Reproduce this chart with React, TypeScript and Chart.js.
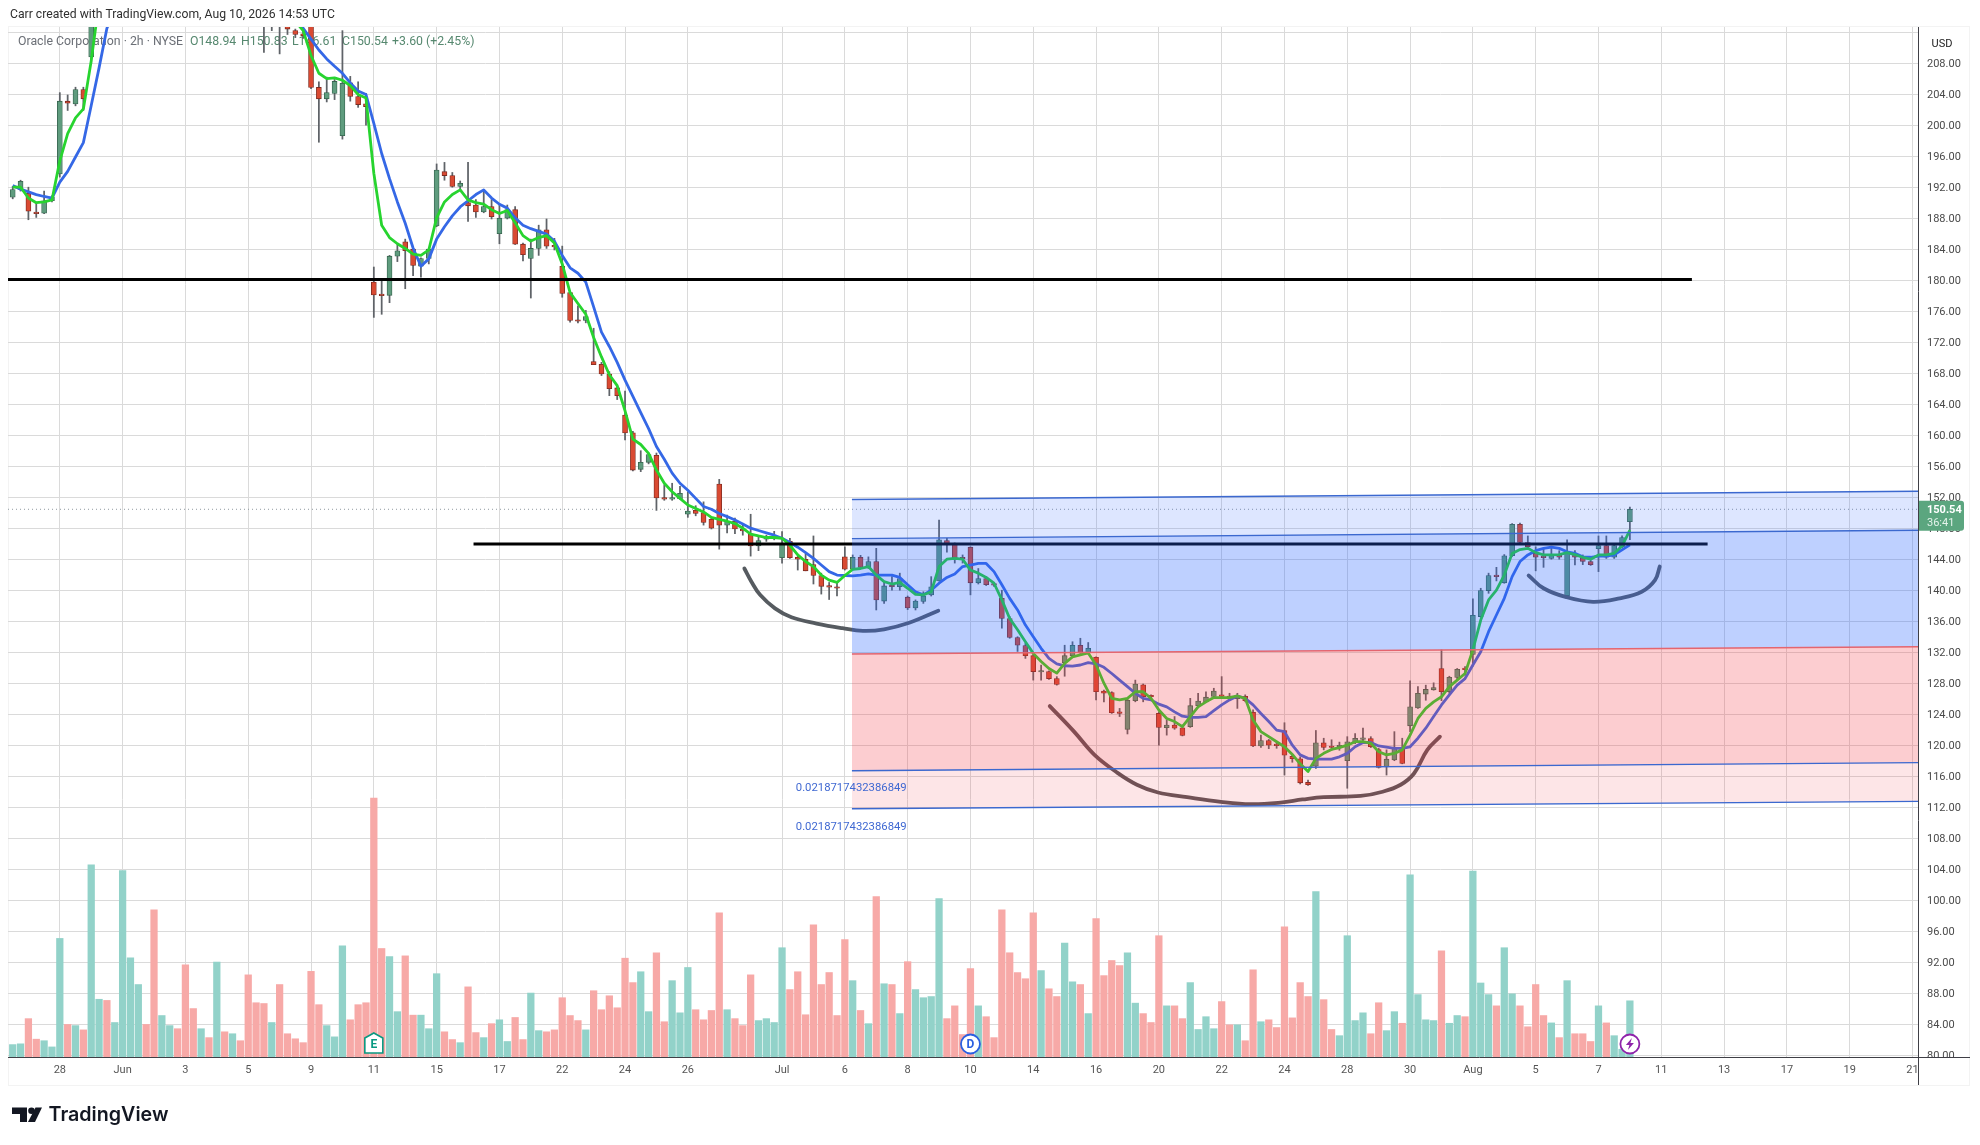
import React, { useEffect, useRef } from "react";
import { Chart, registerables } from "chart.js";

Chart.register(...registerables);

const opens = [
  190.8,191.8,191.3,188.8,188.75,190.35,193.8,203.2,202.85,204.7,
  208.9,215,219,218,219.5,225,227.5,229,228,224,
  225,226,225.5,222,220.5,221,220.5,222.5,222,222.5,
  222,219.5,217.5,215.5,216.5,213.2,212.3,211.9,214,204.97,
  203.5,204.2,198.75,205.57,203.8,202.85,179.85,178.2,178.15,183.2,
  185.06,184.1,181.9,182.9,187.1,194.1,193.6,192.2,190.1,189.8,
  188.9,189.6,186.1,188.1,189.2,184.75,182.9,184.2,186.6,184.5,
  181.9,178.5,175,174.9,169.6,169.25,168,166.2,162.7,160.4,
  155.7,156.6,157.5,151.95,151.85,151.9,149.9,150.4,150.1,149.25,
  153.8,148.5,149,147.9,147.35,145.8,146.7,146.8,144.3,146.4,
  144.35,144.1,143.4,142,140.6,140.5,144.4,142.8,144.35,143.05,
  143.8,138.7,140.6,140.55,139.2,137.8,138.65,139.5,141.3,146.5,
  146.05,144.2,145.65,141.05,141.6,140.85,139.05,136.45,134,132.95,
  131.65,129.55,129.6,128.7,130.75,131.65,133,132,131.45,127.1,
  126.9,124.3,122.15,125.85,127.9,126.45,124.2,122.35,122.7,122.35,
  122.5,125.2,125.7,126.4,126.5,126.36,126.1,126.4,124.35,120,
  120.7,120.15,122,118.65,118.35,115.3,117.4,120.4,119.85,119.9,
  118.1,120.45,120.85,120.95,119.55,117.3,118.2,119.8,122.6,124.9,
  126.7,127.25,130,127,128.85,129.95,131.8,136.7,140.05,142,
  141.05,144.55,148.6,146.25,144.85,144.4,144.2,144.7,139.4,144.75,
  144.3,143.8,145.45,145.85,144.35,145.7,148.94,
];
const closes = [
  191.8,192.85,189,188.7,190.35,190.85,203.2,202.95,204.7,203.5,
  215,219,218,219.5,225,227.5,229,228,224,225,
  226,225.5,222,220.5,221,220.5,222.5,222,222.5,222,
  219.5,217.5,215.5,216.5,214.5,212.5,211.8,211.65,204.97,203.5,
  204.3,205.75,205.5,203.8,202.76,202.5,178.2,178.1,183.2,183.9,
  183.9,182,182.9,184.1,194.3,193.6,192.2,192.6,189.7,188.9,
  189.6,188.3,188.1,189.2,184.75,183.4,184.2,186.6,184.5,184.4,
  178.4,174.9,174.8,175.4,169.2,168,166.1,165.2,160.4,155.6,
  156.6,157.6,152,151.85,151.95,152.6,150.3,150,148.85,148.1,
  148.5,149,148,147.75,145.8,146.5,146.8,146.9,146.15,144.3,
  144.1,142.6,142,140.6,140.5,140.35,142.8,144.35,143.05,143.8,
  138.85,140.65,140.55,141.6,137.8,138.7,139.35,140.55,146.6,146.05,
  144.2,144.15,141.05,141.6,140.8,140.75,136.45,134,133,131.65,
  129.6,129.63,128.7,127.95,131.65,133,132,132.6,127,126.8,
  124.3,124.2,125.9,128,126.35,126.35,122.4,122.7,122.3,121.35,
  125.2,125.8,126.3,127.1,126.4,126.25,126.5,125.85,120,120.7,
  120.1,120.05,118.8,118.35,115.25,115,120.4,119.8,119.8,119.95,
  120.55,121,120.95,119.9,117.25,118.3,119.8,117.75,125.05,126.8,
  127.3,127.55,127,128.85,129.9,129.85,136.85,140.05,142,141.85,
  144.55,148.6,146.25,145.7,144.35,144.3,144.7,144.35,144.85,144.35,
  143.8,143.4,145.85,144.35,145.85,146.9,150.54,
];
const highs = [
  192.2,193,192.1,190,191.6,191,204.3,204,205,205,
  217,220,220,220,226,228,230,230,229,226,
  227,227,226,223,222,222,223,223,223,223,
  223,220,218,217,217,213.4,212.5,212.2,214.5,205.7,
  206.3,206,212.3,206.4,205.7,204.2,181.8,180.1,183.3,184.7,
  185.4,184.3,183,184.2,195.1,195.3,194,192.9,195.3,190.5,
  191.6,190.5,189.8,189.8,189.6,184.9,185.4,187.2,188,185.5,
  184.5,178.5,176.8,176.2,173.9,169.5,168.3,166.5,165.8,160.6,
  158.1,157.8,157.8,153.7,153.9,153.5,152.8,151,151.5,149.4,
  154.4,149.8,149.4,148.5,149.9,147,147.2,147.7,147.65,146.8,
  144.5,144.8,147.1,142.3,141.1,141.2,145.7,144.65,144.6,144.4,
  145.5,141.2,141.85,142.3,139.35,138.85,139.9,141.85,149.15,146.8,
  146.2,144.65,145.7,142.9,141.85,141,140.1,136.7,134.1,133.25,
  132,130.45,129.7,128.95,133,133.45,133.9,133.35,131.5,127.2,
  127,124.85,126.15,128.5,128,126.6,124.4,123.35,123.8,122.7,
  126.15,126.8,127,127.45,128.95,126.8,126.8,126.6,124.65,121.4,
  120.85,120.6,123,118.85,118.6,115.6,122,121,120.8,120.5,
  121.2,121.6,122.3,121.2,119.7,119.5,121.85,121,128.4,127.65,
  127.85,128.15,132.4,129,130,130.25,139,140.35,142.3,143.05,
  144.7,148.7,148.75,147.1,145.7,145.4,145.6,145.2,146.6,145.2,
  144.65,144.05,147.1,147.1,146.15,147.1,150.83,
];
const lows = [
  190.6,191.6,187.9,188.2,188.7,190.2,193.4,202,202.6,202,
  208,214.5,217,217.5,219,224.5,227,227,223,223.5,
  224.5,225,221.5,220,220,220,220,221.5,221.5,221.5,
  219,217,209.5,212.3,209.3,211.8,211.4,211.3,204.8,197.9,
  203.1,203.4,198.3,203.2,202.4,200.1,175.3,175.7,177.2,182.5,
  179,180.7,180.5,182.2,187,193,192.1,191.9,187.7,188.2,
  188.8,188,184.8,188,184.7,182.6,177.8,183.3,184.2,184,
  177.9,174.7,174.6,174.6,169.2,167.8,165.2,164.7,159.5,155.5,
  155.4,156.4,150.4,151.7,151.7,151.8,149.5,149.7,148.5,148,
  145.4,147.5,147.4,147.2,144.5,145.2,146.4,146.6,143.6,144.2,
  142.7,142.6,140.9,139.6,138.9,139.35,142.7,142.7,142.9,142.9,
  137.55,138.4,140.1,140.1,137.6,137.55,138.4,139.35,141.3,145,
  143.6,143.6,139.5,140.9,140.7,140.6,135.2,133.9,132.2,131.3,
  128.5,128.5,128.6,127.85,129,131.5,131.95,131.95,125.95,125.7,
  124.2,123.8,121.55,125.7,125.7,126.1,120.1,121.4,122.15,121.3,
  122.4,125.05,125.7,126.3,126.3,125.9,124.85,125.7,119.9,119.8,
  119.65,119.7,116.25,117.9,115.1,114.9,117.1,119.5,119.45,119.45,
  114.55,120.3,120.5,119.8,117.15,116.25,118.1,117.7,121.85,124.85,
  125.9,127.2,125.85,126.8,128.5,129.15,130.3,136.6,139.7,141.3,
  141,144.45,146.15,145.5,142.6,143.05,144.1,144.1,139.3,143.35,
  143.4,143.3,142.5,144.2,144.2,145.6,146.61,
];
const greenMA = [
  192.1,192.1,190.7,190.1,190.2,190.45,195.5,199,201.05,202.2,
  208.4,216,218,219,221,223,225,226,227,226.5,
  226,225.5,225,224.5,223.5,223,222.5,222,222,221.5,
  220.5,219.5,218,217,216,215,213.5,212.3,209.1,206.8,
  206.1,206.2,205.9,205.2,204.05,203.6,193.9,187.2,185.6,184.8,
  184.2,183.45,183.3,184,188.15,190.2,191.15,191.75,190.45,190.1,
  189.9,189.2,188.7,189.1,187.5,185.85,185.15,185.6,185.85,184.9,
  182.2,178.5,177.1,175.7,172.7,170.2,167.9,166.5,163.25,159.6,
  158.9,157.75,155.6,153.9,152.8,151.95,151.1,150.65,150.2,149.5,
  149.25,149,148.7,148.1,147.35,147.1,146.9,146.9,146.8,145.9,
  144.65,143.8,143.15,142.05,141.4,141.1,142,142.8,142.9,143.15,
  142.05,141.2,140.9,141.1,140.35,139.55,139.5,139.9,143.15,144.1,
  144.2,144.1,142.7,142.3,141.75,141,138.85,136.45,135,133.45,
  131.95,130.9,130,129.4,130.65,131.5,131.75,132,130.45,128.1,
  126.15,125.95,126.15,127,127,126.15,124.65,123.55,123.15,122.5,
  123.8,125.05,125.7,126.25,126.25,126.25,126.45,126.15,123.35,121.85,
  121.2,120.55,119.9,118.9,117.7,116.7,118.4,119.05,119.55,119.8,
  120.1,120.55,120.55,120.35,119.25,118.85,119.05,119.5,121.4,123.55,
  124.85,125.7,126.35,127.65,128.5,129.35,132.4,136.25,138.85,140.1,
  142.05,144.85,145.35,145.5,144.95,144.65,144.65,144.7,144.95,144.7,
  144.35,144.1,144.65,144.65,144.85,145.8,147.85,
];
const blueMA = [
  192.3,191.85,191.5,191.15,190.9,190.7,192.75,194.15,196,197.85,
  202.65,207.5,212.6,215,217,219,221,223,224,225,
  225.5,225.5,225,225,224.5,224,223.5,223,223,222.5,
  222,221,220,219,218,216.5,215,212.6,211.2,209.8,
  208.65,207.7,206.8,205.55,204.5,204.05,200.35,196.45,193.2,190.2,
  187.45,184.25,181.9,182.85,185.4,187,188.4,189.55,190.35,191.15,
  191.75,190.7,189.9,189.4,188.15,187.2,186.75,186.4,186.05,185.15,
  183.3,181.7,181,179.85,176.65,173.4,171.55,169.5,167.2,165.1,
  163,160.95,158.65,157,155.2,153.9,153,151.95,150.9,150.55,
  150,149.6,149.15,148.65,148.1,147.8,147.5,147.2,146.8,146.25,
  145.65,144.95,144.2,143.35,142.5,142.05,142,141.95,142.05,142.2,
  142.05,142.05,142.05,141.75,140.8,139.9,139.5,140.1,141,141.75,
  142.2,143.15,143.35,143.55,143.55,142.5,140.8,139.05,137.55,135.6,
  134.1,132.6,131.3,130.6,130.35,130.3,130.45,130.75,130.6,130.15,
  129.35,128.5,127.65,126.8,126.15,125.95,125.4,125.05,124.4,123.85,
  123.7,123.7,123.8,124.55,125.3,125.95,126.45,126.15,125.3,124.2,
  123.15,122.05,121.85,120.1,118.85,118.4,118.3,118.3,118.3,118.6,
  119.05,119.9,120.45,120.45,120,119.85,119.7,119.7,119.9,121,
  122.3,123.8,125.3,126.6,127.85,128.7,130.45,132.15,134.75,136.9,
  139.05,141.85,143.8,144.65,145.2,145.5,145.65,145.5,145.05,144.85,
  144.4,144.35,144.5,144.5,144.65,145.3,145.95,
];
const volumes = [
  1.6,1.7,4.95,2.3,2.1,1.3,15.3,4.2,4.05,3.5,
  24.8,7.45,7.3,4.45,24.05,12.8,9.35,4.2,19,5.35,
  4.05,3.65,11.9,6.25,3.65,2.5,12.25,3.25,3,2.1,
  10.6,7,6.9,4.45,9.35,3,2.35,1.85,11.05,6.75,
  4.05,2.6,14.35,4.8,6.75,7,33.4,14,12.95,5.85,
  13.05,5.4,5.4,3.65,10.75,3.25,2.25,1.85,9.05,3.15,
  2.5,4.3,4.8,2,5.1,2.25,8.25,3.4,3.25,3.5,
  7.65,5.35,4.7,3.5,8.55,6.1,7.9,6.35,12.75,9.6,
  11,5.85,13.45,4.55,9.85,5.7,11.55,6.1,4.8,6,
  18.6,6.1,4.95,4.05,10.6,4.7,4.95,4.45,14.1,8.7,
  11,5.45,17.05,9.35,10.9,5.35,15.15,9.85,6,4.3,
  20.7,9.45,9.35,5.6,12.3,8.7,7.65,7.8,20.45,4.95,
  6.6,2.9,11.4,6.6,5.2,2.5,19,13.45,10.9,10.1,
  18.6,11.15,8.8,7.8,14.7,9.7,9.35,5.6,17.85,10.5,
  12.45,11.8,13.45,6.95,5.6,4.45,15.65,6.6,6.6,4.95,
  9.6,3.55,5.2,3.65,7.15,4.15,4.15,2.1,11.25,4.55,
  4.8,3.8,16.8,5.05,9.6,7.8,21.35,7.4,3.55,2.75,
  15.65,4.7,5.7,3,7,3.4,5.85,4.35,23.5,8.05,
  4.8,4.7,13.7,4.35,5.35,5.2,24,9.55,8.05,6.6,
  14.1,8.15,6.6,3.9,9.35,5.35,4.4,2.5,9.85,3,
  3,2,6.6,4.4,2.75,1,7.25,
];

const xTickIndex = [6,14,22,30,38,46,54,62,70,78,86,98,106,114,122,130,138,146,154,162,170,178,186,194,202,210,218,226,234,242];
const xTickText = ["28","Jun","3","5","9","11","15","17","22","24","26","Jul","6","8","10","14","16","20","22","24","28","30","Aug","5","7","11","13","17","19","21"];
const yTickValues = [80,84,88,92,96,100,104,108,112,116,120,124,128,132,136,140,144,148,152,156,160,164,168,172,176,180,184,188,192,196,200,204,208,212];
const yHiddenLabel = 212;

const lastPrice = 150.54;
const resistanceA = { x: [-0.6, 213.9], y: [180.2, 180.2] };
const resistanceB = { x: [58.7, 215.9], y: [146.05, 146.05] };
const channelX = [106.9, 242.7];
const channelLines = [
  [151.8, 152.86],
  [146.75, 147.83],
  [131.87, 132.8],
  [116.8, 117.85],
  [111.9, 112.85],
];
const channelLabel = "0.0218717432386849";
const channelLabelAnchors = [
  { x: 99.75, y: 114.6 },
  { x: 99.75, y: 109.55 },
];

// hand-drawn cups: [bar index, price]
const cupLeft = [[93.2,142.9],[94.1,141.2],[95.2,139.5],[97.1,137.75],[99.2,136.6],[102.4,135.8],[105.7,135.2],[108.3,134.85],[111,135.05],[114.2,135.9],[117.9,137.45]];
const cupMiddle = [[132.1,125.15],[135.2,121.85],[137.8,118.85],[140.5,116.7],[143.2,115],[145.9,114],[149.6,113.4],[153.9,112.8],[157.7,112.5],[161.5,112.7],[164.3,113.1],[167,113.4],[171.7,113.55],[174.5,114.1],[176.8,115],[178.5,116.45],[180.2,119.5],[181.8,121.2]];
const cupRight = [[193.1,142],[195,140.35],[197.9,139.2],[201.3,138.6],[204.7,139.05],[207.5,139.9],[209.2,141.4],[209.8,143.15]];

const GRID = "#dadada";
const AXIS = "#3f3f46";
const TEXT = "#4a4a4a";
const FONT = "Roboto";

const points = (xs: number[], ys: number[]) => xs.map((x, i) => ({ x, y: ys[i] }));
const isUp = (i: number) => closes[i] >= opens[i];

const overlayPlugin = {
  id: "overlay",
  beforeDraw(chart: any) {
    const c = chart.ctx;
    c.save();
    c.strokeStyle = "#f3f3f3";
    c.lineWidth = 1;
    c.strokeRect(8.5, 26.5, 1961, 1059);
    c.restore();
  },
  beforeDatasetsDraw(chart: any) {
    const c = chart.ctx;
    c.save();
    c.font = `12.3px ${FONT}`;
    c.textBaseline = "middle";
    c.fillStyle = "#6b6f76";
    c.fillText("Oracle Corporation · 2h · NYSE", 18, 42);
    c.fillStyle = "#56886f";
    c.fillText("O148.94", 190, 42);
    c.fillText("H150.83", 241, 42);
    c.fillText("L146.61", 292, 42);
    c.fillText("C150.54", 342, 42);
    c.fillText("+3.60 (+2.45%)", 392, 42);
    c.restore();
  },
  afterDraw(chart: any) {
    const c = chart.ctx;
    const sx = chart.scales.x;
    const sy = chart.scales.y;
    const { left, right, top, bottom } = chart.chartArea;
    c.save();

    // clipped bottom of the last axis label, axis lines
    c.fillStyle = "#ffffff";
    c.fillRect(right + 1, bottom, 50, 4);
    c.strokeStyle = AXIS;
    c.lineWidth = 1;
    c.beginPath();
    c.moveTo(right + 0.5, top);
    c.lineTo(right + 0.5, 1085);
    c.moveTo(left, bottom + 0.5);
    c.lineTo(1970, bottom + 0.5);
    c.stroke();

    // channel labels
    c.font = `11.3px ${FONT}`;
    c.fillStyle = "#3f68d2";
    c.textBaseline = "middle";
    channelLabelAnchors.forEach((a) => {
      c.fillText(channelLabel, sx.getPixelForValue(a.x), sy.getPixelForValue(a.y));
    });

    // top-line caption
    c.font = `12.2px ${FONT}`;
    c.fillStyle = "#2f2f2f";
    c.fillText("Carr created with TradingView.com, Aug 10, 2026 14:53 UTC", 10, 14.5);

    // currency box
    c.fillStyle = "#ffffff";
    c.beginPath();
    c.roundRect(1922, 30, 44, 26, 3);
    c.fill();
    c.fillStyle = "#222222";
    c.font = `11px ${FONT}`;
    c.textAlign = "center";
    c.fillText("USD", 1942, 44);

    // last-price tag
    const py = sy.getPixelForValue(lastPrice);
    c.fillStyle = "#5ba67f";
    c.beginPath();
    c.roundRect(right + 1, py - 8.6, 45, 30, [0, 3, 3, 0]);
    c.fill();
    c.fillStyle = "#ffffff";
    c.textAlign = "left";
    c.font = `bold 11px ${FONT}`;
    c.fillText("150.54", 1927, py + 0.5);
    c.font = `11px ${FONT}`;
    c.fillStyle = "#e3f3ea";
    c.fillText("36:41", 1927, py + 14);

    // earnings marker
    const ex = sx.getPixelForValue(46);
    const my = bottom - 13;
    c.fillStyle = "#ffffff";
    c.strokeStyle = "#089981";
    c.lineWidth = 1.6;
    c.beginPath();
    c.moveTo(ex, my - 11);
    c.lineTo(ex + 9, my - 6);
    c.lineTo(ex + 9, my + 9);
    c.lineTo(ex - 9, my + 9);
    c.lineTo(ex - 9, my - 6);
    c.closePath();
    c.fill();
    c.stroke();
    c.fillStyle = "#089981";
    c.font = `bold 12px ${FONT}`;
    c.textAlign = "center";
    c.fillText("E", ex, my + 1);

    // dividend marker
    const dx = sx.getPixelForValue(122);
    c.fillStyle = "#ffffff";
    c.strokeStyle = "#2a5fe0";
    c.lineWidth = 1.8;
    c.beginPath();
    c.arc(dx, my, 9.5, 0, Math.PI * 2);
    c.fill();
    c.stroke();
    c.fillStyle = "#2a5fe0";
    c.fillText("D", dx, my + 1);

    // split/flash marker
    const fx = sx.getPixelForValue(206);
    c.fillStyle = "#ffffff";
    c.strokeStyle = "#8e24aa";
    c.beginPath();
    c.arc(fx, my, 9.5, 0, Math.PI * 2);
    c.fill();
    c.stroke();
    c.fillStyle = "#8e24aa";
    c.beginPath();
    c.moveTo(fx + 2, my - 6);
    c.lineTo(fx - 4, my + 1);
    c.lineTo(fx - 0.5, my + 1);
    c.lineTo(fx - 2, my + 6);
    c.lineTo(fx + 4, my - 1);
    c.lineTo(fx + 0.5, my - 1);
    c.closePath();
    c.fill();

    // logo
    c.fillStyle = "#131722";
    c.beginPath();
    c.moveTo(12, 1107.5);
    c.lineTo(27, 1107.5);
    c.lineTo(27, 1122);
    c.lineTo(20, 1122);
    c.lineTo(20, 1114);
    c.lineTo(12, 1114);
    c.closePath();
    c.fill();
    c.beginPath();
    c.arc(31.5, 1110.8, 3.3, 0, Math.PI * 2);
    c.fill();
    c.beginPath();
    c.moveTo(35.5, 1107.5);
    c.lineTo(42, 1107.5);
    c.lineTo(35, 1122);
    c.lineTo(28, 1122);
    c.closePath();
    c.fill();
    c.textAlign = "left";
    c.font = "600 19.7px Inter";
    c.fillText("TradingView", 48.5, 1115);
    c.restore();
  },
};

export default function App() {
  const ref = useRef<HTMLCanvasElement>(null);

  useEffect(() => {
    const idx = opens.map((_, i) => i);
    const bandFill = [
      "rgba(41,98,255,0.16)",
      "rgba(41,98,255,0.30)",
      "rgba(242,54,69,0.25)",
      "rgba(242,54,69,0.13)",
    ];
    const bandStroke = ["#3b68cf", "#3b68cf", "#e4656f", "#3b68cf", "#3b68cf"];

    const hand = (label: string, pts: number[][], color: string) => ({
      type: "line" as const,
      label,
      data: pts.map(([x, y]) => ({ x, y })),
      borderColor: color,
      borderWidth: 3.8,
      pointRadius: 0,
      tension: 0.4,
      borderCapStyle: "round" as const,
      order: 20,
      yAxisID: "y",
    });

    const chart = new Chart(ref.current as HTMLCanvasElement, {
      type: "bar",
      data: {
        datasets: [
          {
            label: "Volume",
            data: idx.map((i) => ({ x: i, y: volumes[i] })),
            backgroundColor: idx.map((i) => (isUp(i) ? "#92d2c9" : "#f7a9a7")),
            barThickness: 6.6,
            grouped: false,
            order: 100,
            yAxisID: "v",
          },
          {
            type: "line",
            label: "Last",
            data: [{ x: -0.6, y: lastPrice }, { x: 242.7, y: lastPrice }],
            borderColor: "#8f9aa0",
            borderWidth: 1,
            borderDash: [1, 3],
            pointRadius: 0,
            order: 90,
            yAxisID: "y",
          },
          {
            label: "Wick",
            data: idx.map((i) => ({ x: i, y: [lows[i], highs[i]] })),
            backgroundColor: "#5f6368",
            barThickness: 1.1,
            grouped: false,
            order: 60,
            yAxisID: "y",
          },
          {
            label: "Body",
            data: idx.map((i) => ({ x: i, y: [opens[i], closes[i]] })),
            backgroundColor: idx.map((i) => (isUp(i) ? "#5f9c7e" : "#d94a32")),
            borderColor: idx.map((i) => (isUp(i) ? "#35624d" : "#7a2a20")),
            borderWidth: 0.8,
            borderSkipped: false,
            barThickness: 5,
            minBarLength: 1.5,
            grouped: false,
            order: 50,
            yAxisID: "y",
          },
          {
            type: "line",
            label: "Slow MA",
            data: points(idx, blueMA),
            borderColor: "#3568e6",
            borderWidth: 2.8,
            pointRadius: 0,
            borderJoinStyle: "round",
            order: 41,
            yAxisID: "y",
          },
          {
            type: "line",
            label: "Fast MA",
            data: points(idx, greenMA),
            borderColor: "#27d42f",
            borderWidth: 2.8,
            pointRadius: 0,
            borderJoinStyle: "round",
            order: 40,
            yAxisID: "y",
          },
          {
            type: "line",
            label: "Level A",
            data: points(resistanceA.x, resistanceA.y),
            borderColor: "#000000",
            borderWidth: 3,
            pointRadius: 0,
            order: 30,
            yAxisID: "y",
          },
          {
            type: "line",
            label: "Level B",
            data: points(resistanceB.x, resistanceB.y),
            borderColor: "#000000",
            borderWidth: 3,
            pointRadius: 0,
            order: 30,
            yAxisID: "y",
          },
          hand("Cup 1", cupLeft, "#565b60"),
          hand("Cup 2", cupMiddle, "#5e5558"),
          hand("Cup 3", cupRight, "#565b60"),
          ...channelLines.map((ys, k) => ({
            type: "line" as const,
            label: `Channel ${k}`,
            data: points(channelX, ys),
            borderColor: bandStroke[k],
            borderWidth: 1.4,
            pointRadius: 0,
            fill: k < 4 ? "+1" : false,
            backgroundColor: k < 4 ? bandFill[k] : "transparent",
            order: 10 - k,
            yAxisID: "y",
          })),
        ] as any,
      },
      options: {
        animation: false,
        responsive: false,
        devicePixelRatio: 1,
        layout: { padding: { left: 8, top: 27, right: 12, bottom: 60 } },
        plugins: {
          legend: { display: false },
          tooltip: { enabled: false },
          filler: { propagate: false },
        },
        scales: {
          x: {
            type: "linear",
            min: -0.6,
            max: 242.7,
            offset: false,
            grid: { color: GRID, lineWidth: 1, offset: false, drawTicks: false },
            border: { display: false },
            afterBuildTicks: (s: any) => {
              s.ticks = xTickIndex.map((value) => ({ value }));
            },
            afterFit: (s: any) => {
              s.height = 28;
            },
            ticks: {
              autoSkip: false,
              maxRotation: 0,
              padding: 7,
              color: "#555555",
              font: { family: FONT, size: 11 },
              callback: (v: any) => {
                const k = xTickIndex.indexOf(Number(v));
                return k >= 0 ? xTickText[k] : "";
              },
            },
          },
          y: {
            type: "linear",
            position: "right",
            min: 79.87,
            max: 212.77,
            grid: { color: GRID, lineWidth: 1, drawTicks: false },
            border: { display: false },
            afterBuildTicks: (s: any) => {
              s.ticks = yTickValues.map((value) => ({ value }));
            },
            afterFit: (s: any) => {
              s.width = 50;
            },
            ticks: {
              padding: 9,
              autoSkip: false,
              color: TEXT,
              font: { family: FONT, size: 11 },
              callback: (v: any) => (Number(v) === yHiddenLabel ? "" : Number(v).toFixed(2)),
            },
          },
          v: {
            type: "linear",
            position: "right",
            min: 0,
            max: 132.9,
            display: false,
            grid: { display: false },
          },
        },
      } as any,
      plugins: [overlayPlugin as any],
    });
    return () => chart.destroy();
  }, []);

  return (
    <canvas
      ref={ref}
      width={1980}
      height={1145}
      style={{ position: "fixed", left: 0, top: 0, display: "block" }}
    />
  );
}
